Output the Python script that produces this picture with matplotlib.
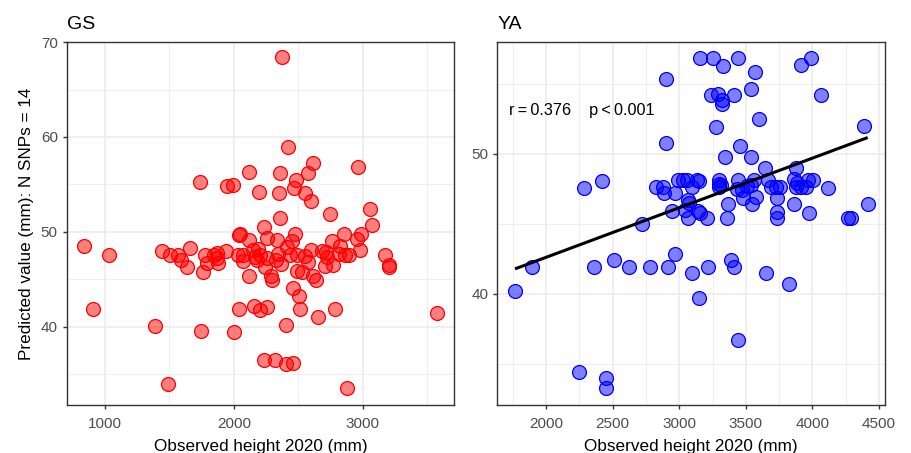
import numpy as np
import matplotlib
matplotlib.use("Agg")
import matplotlib.pyplot as plt
from matplotlib.ticker import MultipleLocator

plt.rcParams['font.family'] = ['Liberation Sans', 'DejaVu Sans']

# ---- data ----
gs_x = [2376, 2418, 2617, 2578, 2118, 2356, 2966, 1737, 1944, 1996,
        2195, 2348, 2482, 2469, 2552, 2596, 2746, 3057, 3075, 2356,
        2237, 2048, 2040, 2120, 2255, 2338, 2477, 2449, 2855, 2987,
        2953, 2762, 2824, 837, 1028, 1445, 1504, 1569, 1587, 1634,
        1657, 1776, 1789, 1758, 1849, 1872, 1880, 1937, 2035, 2068,
        2074, 2118, 2151, 2185, 2177, 2164, 2239, 2286, 2294, 2345,
        2366, 2436, 2493, 2488, 2532, 2578, 2596, 2617, 2635, 2456,
        2508, 2516, 2656, 2782, 2687, 2713, 2720, 2707, 2767, 2862,
        2891, 2979, 3173, 3204, 3207, 3574, 904, 1385, 1748, 2004,
        2037, 2156, 2203, 2260, 2407, 2232, 2317, 2407, 2462, 1486,
        2878, 2200, 2260, 2330, 2410, 2550, 1870, 2820]
gs_y = [68.4, 58.9, 57.3, 56.2, 56.3, 56.2, 56.8, 55.3, 54.8, 54.9,
        54.2, 54.1, 55.5, 54.6, 54.1, 53.3, 51.9, 52.4, 50.7, 51.5,
        50.5, 49.8, 49.7, 49.1, 49.4, 49.1, 49.8, 49.0, 49.8, 49.8,
        49.3, 49.0, 48.5, 48.5, 47.6, 48.0, 47.6, 47.6, 47.0, 46.3,
        48.3, 47.6, 46.7, 45.8, 47.6, 47.8, 46.7, 48.0, 47.6, 47.6,
        46.9, 45.4, 48.1, 48.2, 47.0, 47.4, 46.3, 45.3, 44.9, 47.7,
        46.6, 47.6, 47.6, 45.9, 45.8, 46.8, 48.1, 45.4, 44.9, 44.1,
        43.2, 41.9, 41.0, 41.9, 48.0, 47.9, 47.4, 46.4, 46.5, 47.6,
        47.6, 48.1, 47.6, 46.5, 46.3, 41.5, 41.9, 40.1, 39.6, 39.4,
        41.9, 42.2, 41.8, 42.1, 40.2, 36.5, 36.5, 36.1, 36.2, 34.0,
        33.5, 47.6, 47.2, 47.0, 48.4, 47.5, 47.3, 47.7]

ya_x = [3154, 3256, 3326, 3444, 3569, 3987, 3914, 2898, 3539, 3236,
        3294, 3411, 3319, 3324, 4065, 3597, 3276, 4387, 2898, 3456,
        3346, 3536, 3647, 3877, 2288, 2418, 2823, 2881, 2886, 2968,
        2988, 3031, 3056, 3099, 3136, 3149, 3069, 3076, 2943, 3044,
        3144, 3156, 3069, 3211, 3296, 3296, 3296, 3311, 3366, 3359,
        3444, 3431, 3469, 3481, 3507, 3539, 3561, 3574, 3549, 3669,
        3687, 3727, 3757, 3737, 3737, 3737, 3864, 3887, 3877, 3914,
        3952, 3969, 4007, 4120, 3864, 3977, 4265, 4290, 4415, 2718,
        1767, 1897, 2358, 2508, 2626, 2778, 2918, 2968, 3094, 3219,
        3386, 3411, 3652, 3827, 3146, 3444, 2245, 2448, 2448]
ya_y = [56.88, 56.88, 56.3, 56.88, 55.86, 56.88, 56.36, 55.36, 54.64, 54.2,
        54.26, 54.2, 53.86, 53.6, 54.2, 52.5, 51.95, 51.98, 50.8, 50.57,
        49.8, 49.8, 49.0, 48.98, 47.6, 48.1, 47.67, 47.67, 47.2, 47.2,
        48.14, 48.14, 48.14, 47.67, 48.14, 48.1, 46.7, 46.5, 45.9, 46.0,
        45.9, 45.76, 45.4, 45.4, 48.14, 47.86, 47.62, 47.79, 46.4, 45.4,
        48.14, 47.5, 47.43, 46.83, 47.7, 47.8, 48.14, 46.9, 46.43, 48.14,
        47.67, 47.67, 47.67, 46.83, 45.88, 45.4, 48.2, 47.9, 47.67, 47.67,
        47.67, 48.14, 48.14, 47.6, 46.43, 45.8, 45.4, 45.4, 46.4, 44.98,
        40.2, 41.9, 41.9, 42.43, 41.9, 41.9, 41.9, 42.86, 41.48, 41.9,
        42.43, 41.9, 41.48, 40.7, 39.7, 36.7, 34.4, 34.02, 33.26]

panel_titles = ["GS", "YA"]
stat_label = "r\u2009=\u20090.376    p\u2009<\u20090.001"
x_label = "Observed height 2020 (mm)"
y_label = "Predicted value (mm): N SNPs = 14"

# ---- figure ----
fig = plt.figure(figsize=(9.12, 4.53), dpi=100)
W, H = 912, 453
def rect(l, t, r, b):
    return [l / W, (H - b) / H, (r - l) / W, (b - t) / H]

ax1 = fig.add_axes(rect(66.7, 41.7, 454, 405))
ax2 = fig.add_axes(rect(497.3, 41.7, 885.3, 405))

grid_c = "#EBEBEB"
for ax in (ax1, ax2):
    ax.set_axisbelow(True)
    ax.grid(True, which="major", color=grid_c, linewidth=1.1)
    ax.grid(True, which="minor", color=grid_c, linewidth=0.55)
    for s in ax.spines.values():
        s.set_color("#333333")
        s.set_linewidth(1.0)
    ax.tick_params(which="major", direction="out", length=3.2, width=1.0,
                   color="#333333", labelcolor="#4D4D4D", labelsize=11)
    ax.tick_params(axis="x", which="major", pad=5.5)
    ax.tick_params(axis="y", which="major", pad=3.2)
    ax.tick_params(which="minor", length=0)
    ax.set_xlabel(x_label, fontsize=12.3, color="black", labelpad=5.5)

ms = 100
ax1.scatter(gs_x, gs_y, s=ms, facecolor=(1, 0, 0, 0.5), edgecolor=(1, 0, 0, 1),
            linewidth=0.9, zorder=3)
ax1.set_xlim(702, 3709)
ax1.set_ylim(31.76, 70.04)
ax1.xaxis.set_major_locator(MultipleLocator(1000))
ax1.xaxis.set_minor_locator(MultipleLocator(500))
ax1.yaxis.set_major_locator(MultipleLocator(10))
ax1.yaxis.set_minor_locator(MultipleLocator(5))
ax1.set_ylabel(y_label, fontsize=12.3, color="black", labelpad=5)
ax1.set_title(panel_titles[0], loc="left", fontsize=14, pad=9.0)

ax2.scatter(ya_x, ya_y, s=ms, facecolor=(0, 0, 1, 0.5), edgecolor=(0, 0, 1, 1),
            linewidth=0.9, zorder=3)
xa = np.array(ya_x, dtype=float)
ya = np.array(ya_y, dtype=float)
slope, icpt = np.polyfit(xa, ya, 1)
xl = np.array([xa.min(), xa.max()])
ax2.plot(xl, icpt + slope * xl, color="black", linewidth=2.2, zorder=4,
         solid_capstyle="butt")
ax2.set_xlim(1634, 4547)
ax2.set_ylim(32.07, 58.02)
ax2.xaxis.set_major_locator(MultipleLocator(500))
ax2.xaxis.set_minor_locator(MultipleLocator(250))
ax2.yaxis.set_major_locator(MultipleLocator(10))
ax2.yaxis.set_minor_locator(MultipleLocator(5))
ax2.set_title(panel_titles[1], loc="left", fontsize=14, pad=9.0)
ax2.text(0.03, 0.812, stat_label, transform=ax2.transAxes, fontsize=11.7,
         ha="left", va="center", color="black")

fig.savefig("out.png", dpi=100)
